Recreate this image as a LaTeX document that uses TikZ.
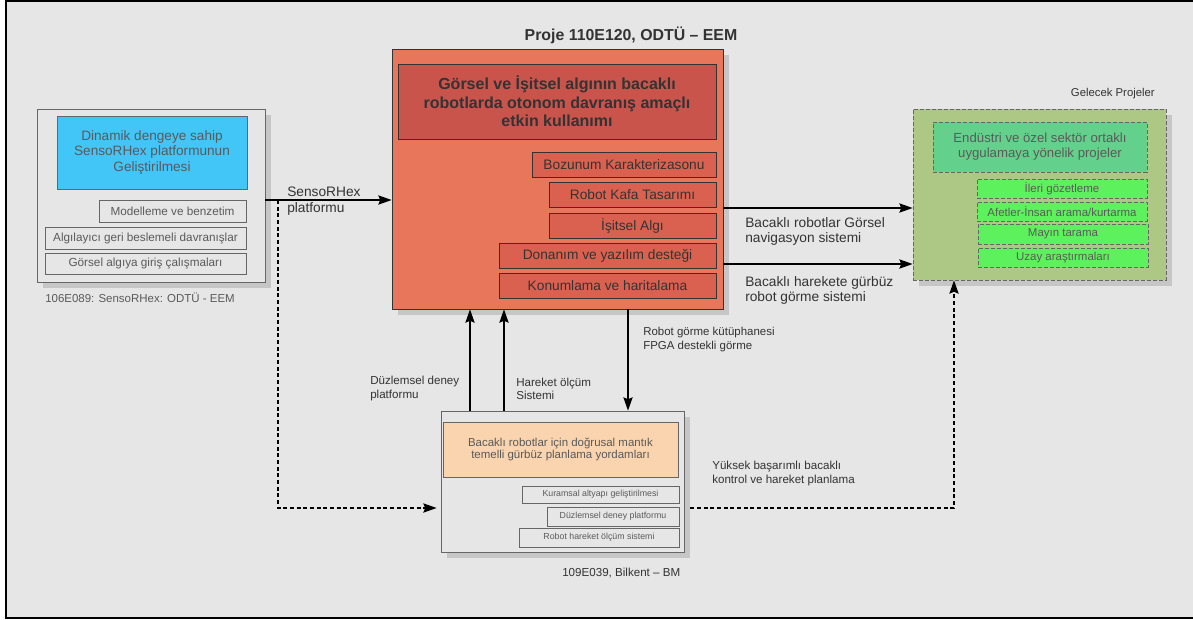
\documentclass[tikz,border=0pt]{standalone}
\usepackage{fontspec}
\setmainfont{Liberation Sans}
\usetikzlibrary{arrows.meta,positioning,shadows}
\newcommand{\px}{0.75pt}
\definecolor{rsBack}{HTML}{E6E6E6}
\definecolor{rsShade}{HTML}{C6C6C6}
\definecolor{rsInk}{HTML}{333333}
\definecolor{rsGrey}{HTML}{5A5A5A}
\definecolor{rsEdge}{HTML}{666666}
\definecolor{rsSky}{HTML}{42C5F7}
\definecolor{rsOrange}{HTML}{E8765A}
\definecolor{rsBrick}{HTML}{C8544B}
\definecolor{rsRed}{HTML}{DA614F}
\definecolor{rsOlive}{HTML}{ADC885}
\definecolor{rsTeal}{HTML}{63D18B}
\definecolor{rsLime}{HTML}{5DF25D}
\definecolor{rsPeach}{HTML}{F9D4AE}
\tikzset{
  boxsize/.style 2 args={minimum width=#1*\px, minimum height=#2*\px},
  shadowed/.style={general shadow={fill=rsShade, shadow xshift=4.5pt, shadow yshift=-4.5pt}},
  frameBox/.style={draw=rsEdge, fill=rsBack, line width=0.6pt, shadowed},
  skyBox/.style={draw=rsEdge, fill=rsSky, align=center, inner sep=0pt, text=rsGrey, font=\fontsize{10.2}{11.6}\selectfont},
  greyItem/.style={draw=rsEdge, fill=rsBack, align=center, inner sep=0pt, text=rsGrey, font=\fontsize{8.8}{10}\selectfont},
  orangeBox/.style={draw=rsInk, fill=rsOrange, line width=0.6pt, shadowed},
  redTitle/.style={draw=rsInk, fill=rsBrick, align=center, inner sep=0pt, text=rsInk, font=\bfseries\fontsize{12}{13.9}\selectfont},
  redItem/.style={draw=rsInk, fill=rsRed, align=center, inner sep=0pt, text=rsInk, font=\fontsize{10.3}{11.5}\selectfont},
  greenFrame/.style={draw=rsEdge, dash pattern=on 3pt off 1.5pt, fill=rsOlive, line width=0.6pt, shadowed},
  tealBox/.style={draw=rsEdge, dash pattern=on 3pt off 1.5pt, fill=rsTeal, align=center, inner sep=0pt, text=rsGrey, font=\fontsize{9.9}{11.3}\selectfont},
  limeItem/.style={draw=rsEdge, dash pattern=on 3pt off 1.5pt, fill=rsLime, align=center, inner sep=0pt, text=rsGrey, font=\fontsize{8.6}{9.5}\selectfont},
  peachBox/.style={draw=rsEdge, fill=rsPeach, align=center, inner sep=0pt, text=rsGrey, font=\fontsize{8.6}{9.5}\selectfont},
  smallItem/.style={draw=rsEdge, fill=rsBack, align=center, inner sep=0pt, text=rsGrey, font=\fontsize{6.6}{7.5}\selectfont},
  flowArrow/.style={-{Stealth[length=10pt, width=7pt, inset=1.5pt]}, line width=0.8pt, draw=black},
  dashArrow/.style={flowArrow, dash pattern=on 3pt off 2pt},
  noteLabel/.style={inner sep=0pt, align=left, text=rsInk, font=\fontsize{8.7}{9.8}\selectfont},
  bigLabel/.style={inner sep=0pt, align=left, text=rsInk, font=\fontsize{10.3}{11.3}\selectfont}
}
\begin{document}
\begin{tikzpicture}[x=\px, y=-\px]
  \useasboundingbox (0,0) rectangle (1193,619);
  \fill[white] (0,0) rectangle (1193,619);
  \fill[rsBack] (6,1) rectangle (1193,618);
  \draw[line width=1.2pt] (1193,1) -- (6,1) -- (6,618) -- (1193,618);

  % 106E089
  \node[frameBox, boxsize={228}{173}] (srhex) at (151,195.5) {};
  \node[skyBox, boxsize={190}{73}] (srhexTitle) at (152,152.5) {Dinamik dengeye sahip\\SensoRHex platformunun\\Geliştirilmesi};
  \node[greyItem, boxsize={147}{22}] (model) at (172.5,211) {Modelleme ve benzetim};
  \node[greyItem, boxsize={201}{22}] (sensorFb) at (145.5,238) {Algılayıcı geri beslemeli davranışlar};
  \node[greyItem, boxsize={201}{21}] (visIntro) at (145.5,263.5) {Görsel algıya giriş çalışmaları};
  \node[noteLabel, anchor=west, text=rsGrey, font=\fontsize{8.6}{10}\selectfont] (srhexName) at (45,298) {106E089: SensoRHex: ODTÜ - EEM};

  % 110E120
  \node[orangeBox, boxsize={331}{260}] (main) at (557.5,179) {};
  \node[inner sep=0pt, text=rsInk, font=\bfseries\fontsize{11.9}{13}\selectfont] (mainName) at (631,35) {Proje 110E120, ODTÜ – EEM};
  \node[redTitle, boxsize={318}{75}] (mainTitle) at (557,101.5) {Görsel ve İşitsel algının bacaklı\\robotlarda otonom davranış amaçlı\\etkin kullanımı};
  \node[redItem, boxsize={184}{25}] (degrade) at (624,164.5) {Bozunum Karakterizasonu};
  \node[redItem, boxsize={167}{25}] (head) at (632.5,194.5) {Robot Kafa Tasarımı};
  \node[redItem, boxsize={167}{25}] (audio) at (632.5,225.5) {İşitsel Algı};
  \node[redItem, boxsize={217}{25}] (support) at (607.5,255.5) {Donanım ve yazılım desteği};
  \node[redItem, boxsize={217}{25}] (mapping) at (607.5,285.5) {Konumlama ve haritalama};

  % future projects
  \node[greenFrame, boxsize={253}{171}] (future) at (1039.5,194.5) {};
  \node[noteLabel, anchor=east, font=\fontsize{8.5}{9}\selectfont] (futureName) at (1155,94) {Gelecek Projeler};
  \node[tealBox, boxsize={214}{50}] (industry) at (1040,147) {Endüstri ve özel sektör ortaklı\\uygulamaya yönelik projeler};
  \node[limeItem, boxsize={170}{19}] (watch) at (1062,188.5) {İleri gözetleme};
  \node[limeItem, boxsize={170}{19}] (rescue) at (1062,211.5) {Afetler-İnsan arama/kurtarma};
  \node[limeItem, boxsize={170}{20}] (mines) at (1063,234) {Mayın tarama};
  \node[limeItem, boxsize={170}{19}] (space) at (1063,257.5) {Uzay araştırmaları};

  % 109E039
  \node[frameBox, boxsize={243}{141}] (bottom) at (562.5,481.5) {};
  \node[peachBox, boxsize={235}{55}] (planning) at (560.5,449.5) {Bacaklı robotlar için doğrusal mantık\\temelli gürbüz planlama yordamları};
  \node[smallItem, boxsize={157}{17}] (theory) at (600.5,494.5) {Kuramsal altyapı geliştirilmesi};
  \node[smallItem, boxsize={132}{19}] (planar) at (613,516.5) {Düzlemsel deney platformu};
  \node[smallItem, boxsize={160}{19}] (motion) at (599,537.5) {Robot hareket ölçüm sistemi};
  \node[noteLabel, anchor=west] (bottomName) at (562,573) {109E039, Bilkent – BM};

  % connectors
  \coordinate (split) at (278,200);
  \draw[flowArrow] (srhex.east |- split) -- (main.west |- split);
  \draw[dashArrow, shorten >=3pt] (split) |- (bottom.west |- 0,508);
  \draw[flowArrow] (main.east |- 0,208) -- (future.west |- 0,208);
  \draw[flowArrow] (main.east |- 0,264) -- (future.west |- 0,264);
  \draw[flowArrow] (bottom.north -| 470,0) -- (main.south -| 470,0);
  \draw[flowArrow] (bottom.north -| 504,0) -- (main.south -| 504,0);
  \draw[flowArrow] (main.south -| 628,0) -- (bottom.north -| 628,0);
  \draw[dashArrow] ([xshift=4.5pt]bottom.east |- 0,508) -| (future.south -| 954,0);

  % connector labels
  \node[bigLabel, anchor=west, font=\fontsize{10.3}{12.5}\selectfont] (srhexLab) at (287,201) {SensoRHex\\platformu};
  \node[bigLabel, anchor=west] (navLab) at (745,231.5) {Bacaklı robotlar Görsel\\navigasyon sistemi};
  \node[bigLabel, anchor=west] (visionLab) at (745,290.5) {Bacaklı harekete gürbüz\\robot görme sistemi};
  \node[noteLabel, anchor=west, font=\fontsize{8.6}{10.5}\selectfont] (fpgaLab) at (643,340) {Robot görme kütüphanesi\\FPGA destekli görme};
  \node[noteLabel, anchor=west] (planarLab) at (370,388.5) {Düzlemsel deney\\platformu};
  \node[noteLabel, anchor=west] (motionLab) at (516,388.5) {Hareket ölçüm\\Sistemi};
  \node[noteLabel, anchor=west] (controlLab) at (712,473.5) {Yüksek başarımlı bacaklı\\kontrol ve hareket planlama};
\end{tikzpicture}
\end{document}
